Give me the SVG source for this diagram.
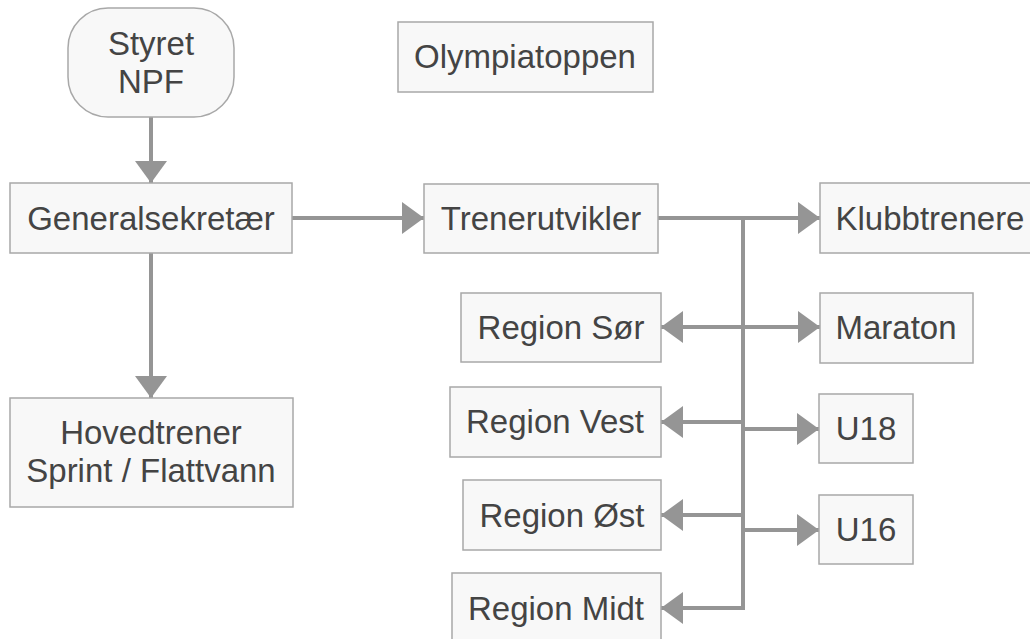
<svg xmlns="http://www.w3.org/2000/svg" width="1030" height="639" viewBox="0 0 1030 639">
<style>
.box{fill:#f8f8f8;stroke:#a8a8a8;stroke-width:1.5}
.t{font-family:"Liberation Sans",Arial,Helvetica,sans-serif;font-size:33px;fill:#444;text-anchor:middle}
.c{fill:none;stroke:#959595;stroke-width:4}
</style>
<defs>
<marker id="ah" markerUnits="userSpaceOnUse" markerWidth="22" markerHeight="32" refX="22" refY="16" orient="auto">
<path d="M0,0 L22,16 L0,32 Z" fill="#959595"/>
</marker>
</defs>
<rect width="1030" height="639" fill="#ffffff"/>
<g id="connectors">
<path class="c" d="M151,117 V183" marker-end="url(#ah)"/>
<path class="c" d="M151,253 V398" marker-end="url(#ah)"/>
<path class="c" d="M292,218 H424" marker-end="url(#ah)"/>
<path class="c" d="M658,218 H820" marker-end="url(#ah)"/>
<path class="c" d="M743,218 V608 H661" marker-end="url(#ah)"/>
<path class="c" d="M743,327 H661" marker-end="url(#ah)"/>
<path class="c" d="M743,327 H820" marker-end="url(#ah)"/>
<path class="c" d="M743,422 H661" marker-end="url(#ah)"/>
<path class="c" d="M743,429 H819" marker-end="url(#ah)"/>
<path class="c" d="M743,515 H661" marker-end="url(#ah)"/>
<path class="c" d="M743,530 H819" marker-end="url(#ah)"/>
</g>
<g id="styret">
<rect class="box" x="68" y="8" width="166" height="109" rx="40" ry="40"/>
<text class="t" x="151" y="55">Styret</text>
<text class="t" x="151" y="93">NPF</text>
</g>
<g id="olympiatoppen">
<rect class="box" x="398" y="22" width="255" height="70"/>
<text class="t" x="525" y="68">Olympiatoppen</text>
</g>
<g id="generalsekretaer">
<rect class="box" x="10" y="183" width="282" height="70"/>
<text class="t" x="151" y="230">Generalsekretær</text>
</g>
<g id="trenerutvikler">
<rect class="box" x="424" y="184" width="234" height="69"/>
<text class="t" x="541" y="230">Trenerutvikler</text>
</g>
<g id="klubbtrenere">
<rect class="box" x="820" y="183" width="220" height="70"/>
<text class="t" x="930" y="230">Klubbtrenere</text>
</g>
<g id="hovedtrener">
<rect class="box" x="10" y="398" width="283" height="109"/>
<text class="t" x="151" y="444">Hovedtrener</text>
<text class="t" x="151" y="482">Sprint / Flattvann</text>
</g>
<g id="region-sor">
<rect class="box" x="461" y="293" width="200" height="69"/>
<text class="t" x="561" y="339">Region Sør</text>
</g>
<g id="maraton">
<rect class="box" x="820" y="293" width="153" height="70"/>
<text class="t" x="896" y="339">Maraton</text>
</g>
<g id="region-vest">
<rect class="box" x="450" y="387" width="211" height="70"/>
<text class="t" x="555" y="433">Region Vest</text>
</g>
<g id="u18">
<rect class="box" x="819" y="394" width="94" height="69"/>
<text class="t" x="866" y="440">U18</text>
</g>
<g id="region-ost">
<rect class="box" x="463" y="480" width="198" height="70"/>
<text class="t" x="562" y="527">Region Øst</text>
</g>
<g id="u16">
<rect class="box" x="819" y="495" width="94" height="69"/>
<text class="t" x="866" y="541">U16</text>
</g>
<g id="region-midt">
<rect class="box" x="452" y="573" width="209" height="75"/>
<text class="t" x="556" y="620">Region Midt</text>
</g>
</svg>
